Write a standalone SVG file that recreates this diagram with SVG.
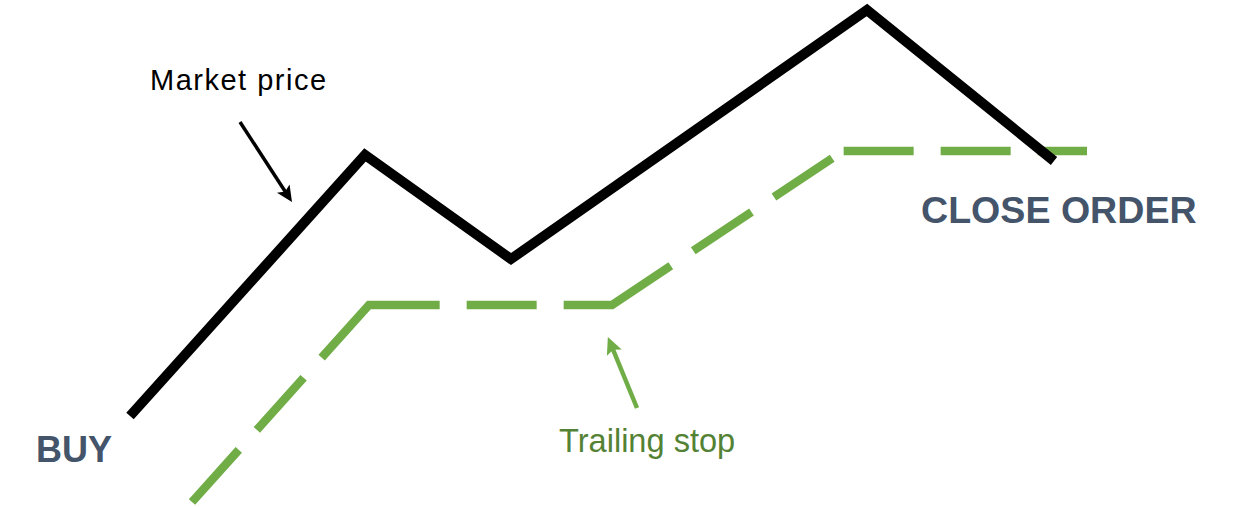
<svg xmlns="http://www.w3.org/2000/svg" width="1249" height="507" viewBox="0 0 1249 507">
  <style>
    .price { fill: none; stroke: #000000; stroke-width: 10; stroke-linejoin: miter; stroke-miterlimit: 10; }
    .stop { fill: none; stroke: #70AD47; stroke-width: 8.5; stroke-linejoin: miter; stroke-miterlimit: 10; }
    .label { font-family: "Liberation Sans", Arial, sans-serif; }
    .title { font-family: "Liberation Sans", Arial, sans-serif; font-weight: bold; fill: #44546A; }
  </style>
  <defs>
    <marker id="headBlack" markerUnits="userSpaceOnUse" markerWidth="30" markerHeight="30" viewBox="-10 -10 30 20" refX="0" refY="0" orient="auto" overflow="visible">
      <path d="M11,0 L-5,-7.5 L-1.5,0 L-5,7.5 Z" fill="#000000"/>
    </marker>
    <marker id="headGreen" markerUnits="userSpaceOnUse" markerWidth="30" markerHeight="30" viewBox="-10 -10 30 20" refX="0" refY="0" orient="auto" overflow="visible">
      <path d="M12,0 L-5,-8 L-2,0 L-5,8 Z" fill="#70AD47"/>
    </marker>
  </defs>

  <g id="trailing-stop-line">
    <polyline class="stop" points="192,502 369,305 612,305 843,151 1087,151"
      stroke-dasharray="70 27 70 27 141.5 27 70 27 119 27 70 27 70 13.6 70 27 70 27 60 1000"/>
  </g>

  <g id="market-price-line">
    <polyline class="price" points="130,416 365,155 511,259 867,10 1054,161"/>
  </g>

  <g id="connectors">
    <line x1="240" y1="122" x2="286" y2="192.8" stroke="#000000" stroke-width="3.5" marker-end="url(#headBlack)"/>
    <line x1="637" y1="408" x2="612.4" y2="348" stroke="#70AD47" stroke-width="4.5" marker-end="url(#headGreen)"/>
  </g>

  <g id="label-market-price">
    <text class="label" x="150" y="90" font-size="29" letter-spacing="1.5" fill="#000000">Market price</text>
  </g>
  <g id="label-trailing-stop">
    <text class="label" x="559" y="452" font-size="32.6" fill="#548235">Trailing stop</text>
  </g>
  <g id="label-buy">
    <text class="title" x="36" y="462" font-size="36">BUY</text>
  </g>
  <g id="label-close-order">
    <text class="title" x="921" y="223" font-size="37.6">CLOSE ORDER</text>
  </g>
</svg>
